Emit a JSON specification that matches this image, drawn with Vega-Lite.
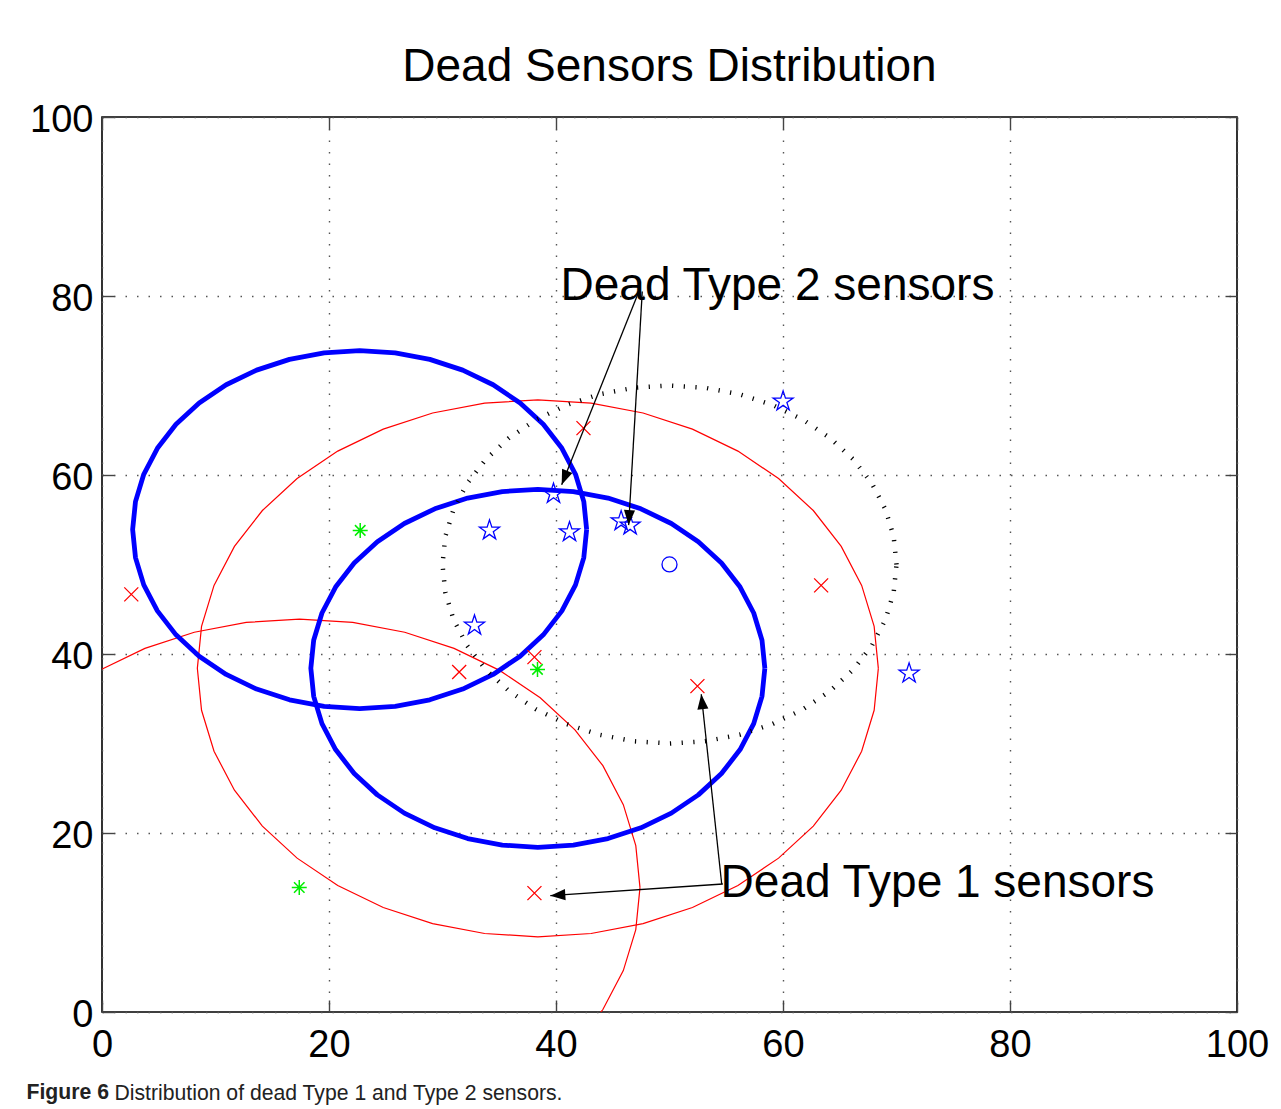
{
  "$schema": "https://vega.github.io/schema/vega-lite/v6.json",
  "width": 1135,
  "height": 895,
  "autosize": {"type": "none"},
  "padding": {"left": 102, "top": 117, "right": 44, "bottom": 97},
  "background": "white",
  "title": {"text": "Dead Sensors Distribution", "font": "Liberation Sans", "fontSize": 46, "fontWeight": "normal", "color": "black", "anchor": "middle", "frame": "group", "offset": 10},
  "config": {"view": {"stroke": "black", "strokeWidth": 1.6}},
  "datasets": {
    "circles": [
      {"c":"B1","k":0,"x":42.7,"y":53.9},{"c":"B1","k":1,"x":42.45,"y":57.03},{"c":"B1","k":2,"x":41.72,"y":60.08},{"c":"B1","k":3,"x":40.52,"y":62.98},{"c":"B1","k":4,"x":38.88,"y":65.66},{"c":"B1","k":5,"x":36.84,"y":68.04},{"c":"B1","k":6,"x":34.46,"y":70.08},{"c":"B1","k":7,"x":31.78,"y":71.72},{"c":"B1","k":8,"x":28.88,"y":72.92},{"c":"B1","k":9,"x":25.83,"y":73.65},{"c":"B1","k":10,"x":22.7,"y":73.9},{"c":"B1","k":11,"x":19.57,"y":73.65},{"c":"B1","k":12,"x":16.52,"y":72.92},{"c":"B1","k":13,"x":13.62,"y":71.72},{"c":"B1","k":14,"x":10.94,"y":70.08},{"c":"B1","k":15,"x":8.56,"y":68.04},{"c":"B1","k":16,"x":6.52,"y":65.66},{"c":"B1","k":17,"x":4.88,"y":62.98},{"c":"B1","k":18,"x":3.68,"y":60.08},{"c":"B1","k":19,"x":2.95,"y":57.03},{"c":"B1","k":20,"x":2.7,"y":53.9},{"c":"B1","k":21,"x":2.95,"y":50.77},{"c":"B1","k":22,"x":3.68,"y":47.72},{"c":"B1","k":23,"x":4.88,"y":44.82},{"c":"B1","k":24,"x":6.52,"y":42.14},{"c":"B1","k":25,"x":8.56,"y":39.76},{"c":"B1","k":26,"x":10.94,"y":37.72},{"c":"B1","k":27,"x":13.62,"y":36.08},{"c":"B1","k":28,"x":16.52,"y":34.88},{"c":"B1","k":29,"x":19.57,"y":34.15},{"c":"B1","k":30,"x":22.7,"y":33.9},{"c":"B1","k":31,"x":25.83,"y":34.15},{"c":"B1","k":32,"x":28.88,"y":34.88},{"c":"B1","k":33,"x":31.78,"y":36.08},{"c":"B1","k":34,"x":34.46,"y":37.72},{"c":"B1","k":35,"x":36.84,"y":39.76},{"c":"B1","k":36,"x":38.88,"y":42.14},{"c":"B1","k":37,"x":40.52,"y":44.82},{"c":"B1","k":38,"x":41.72,"y":47.72},{"c":"B1","k":39,"x":42.45,"y":50.77},{"c":"B1","k":40,"x":42.7,"y":53.9},
      {"c":"B2","k":0,"x":58.4,"y":38.4},{"c":"B2","k":1,"x":58.15,"y":41.53},{"c":"B2","k":2,"x":57.42,"y":44.58},{"c":"B2","k":3,"x":56.22,"y":47.48},{"c":"B2","k":4,"x":54.58,"y":50.16},{"c":"B2","k":5,"x":52.54,"y":52.54},{"c":"B2","k":6,"x":50.16,"y":54.58},{"c":"B2","k":7,"x":47.48,"y":56.22},{"c":"B2","k":8,"x":44.58,"y":57.42},{"c":"B2","k":9,"x":41.53,"y":58.15},{"c":"B2","k":10,"x":38.4,"y":58.4},{"c":"B2","k":11,"x":35.27,"y":58.15},{"c":"B2","k":12,"x":32.22,"y":57.42},{"c":"B2","k":13,"x":29.32,"y":56.22},{"c":"B2","k":14,"x":26.64,"y":54.58},{"c":"B2","k":15,"x":24.26,"y":52.54},{"c":"B2","k":16,"x":22.22,"y":50.16},{"c":"B2","k":17,"x":20.58,"y":47.48},{"c":"B2","k":18,"x":19.38,"y":44.58},{"c":"B2","k":19,"x":18.65,"y":41.53},{"c":"B2","k":20,"x":18.4,"y":38.4},{"c":"B2","k":21,"x":18.65,"y":35.27},{"c":"B2","k":22,"x":19.38,"y":32.22},{"c":"B2","k":23,"x":20.58,"y":29.32},{"c":"B2","k":24,"x":22.22,"y":26.64},{"c":"B2","k":25,"x":24.26,"y":24.26},{"c":"B2","k":26,"x":26.64,"y":22.22},{"c":"B2","k":27,"x":29.32,"y":20.58},{"c":"B2","k":28,"x":32.22,"y":19.38},{"c":"B2","k":29,"x":35.27,"y":18.65},{"c":"B2","k":30,"x":38.4,"y":18.4},{"c":"B2","k":31,"x":41.53,"y":18.65},{"c":"B2","k":32,"x":44.58,"y":19.38},{"c":"B2","k":33,"x":47.48,"y":20.58},{"c":"B2","k":34,"x":50.16,"y":22.22},{"c":"B2","k":35,"x":52.54,"y":24.26},{"c":"B2","k":36,"x":54.58,"y":26.64},{"c":"B2","k":37,"x":56.22,"y":29.32},{"c":"B2","k":38,"x":57.42,"y":32.22},{"c":"B2","k":39,"x":58.15,"y":35.27},{"c":"B2","k":40,"x":58.4,"y":38.4},
      {"c":"R1","k":0,"x":68.4,"y":38.4},{"c":"R1","k":1,"x":68.03,"y":43.09},{"c":"R1","k":2,"x":66.93,"y":47.67},{"c":"R1","k":3,"x":65.13,"y":52.02},{"c":"R1","k":4,"x":62.67,"y":56.03},{"c":"R1","k":5,"x":59.61,"y":59.61},{"c":"R1","k":6,"x":56.03,"y":62.67},{"c":"R1","k":7,"x":52.02,"y":65.13},{"c":"R1","k":8,"x":47.67,"y":66.93},{"c":"R1","k":9,"x":43.09,"y":68.03},{"c":"R1","k":10,"x":38.4,"y":68.4},{"c":"R1","k":11,"x":33.71,"y":68.03},{"c":"R1","k":12,"x":29.13,"y":66.93},{"c":"R1","k":13,"x":24.78,"y":65.13},{"c":"R1","k":14,"x":20.77,"y":62.67},{"c":"R1","k":15,"x":17.19,"y":59.61},{"c":"R1","k":16,"x":14.13,"y":56.03},{"c":"R1","k":17,"x":11.67,"y":52.02},{"c":"R1","k":18,"x":9.87,"y":47.67},{"c":"R1","k":19,"x":8.77,"y":43.09},{"c":"R1","k":20,"x":8.4,"y":38.4},{"c":"R1","k":21,"x":8.77,"y":33.71},{"c":"R1","k":22,"x":9.87,"y":29.13},{"c":"R1","k":23,"x":11.67,"y":24.78},{"c":"R1","k":24,"x":14.13,"y":20.77},{"c":"R1","k":25,"x":17.19,"y":17.19},{"c":"R1","k":26,"x":20.77,"y":14.13},{"c":"R1","k":27,"x":24.78,"y":11.67},{"c":"R1","k":28,"x":29.13,"y":9.87},{"c":"R1","k":29,"x":33.71,"y":8.77},{"c":"R1","k":30,"x":38.4,"y":8.4},{"c":"R1","k":31,"x":43.09,"y":8.77},{"c":"R1","k":32,"x":47.67,"y":9.87},{"c":"R1","k":33,"x":52.02,"y":11.67},{"c":"R1","k":34,"x":56.03,"y":14.13},{"c":"R1","k":35,"x":59.61,"y":17.19},{"c":"R1","k":36,"x":62.67,"y":20.77},{"c":"R1","k":37,"x":65.13,"y":24.78},{"c":"R1","k":38,"x":66.93,"y":29.13},{"c":"R1","k":39,"x":68.03,"y":33.71},{"c":"R1","k":40,"x":68.4,"y":38.4},
      {"c":"R2","k":0,"x":47.4,"y":13.9},{"c":"R2","k":1,"x":47.03,"y":18.59},{"c":"R2","k":2,"x":45.93,"y":23.17},{"c":"R2","k":3,"x":44.13,"y":27.52},{"c":"R2","k":4,"x":41.67,"y":31.53},{"c":"R2","k":5,"x":38.61,"y":35.11},{"c":"R2","k":6,"x":35.03,"y":38.17},{"c":"R2","k":7,"x":31.02,"y":40.63},{"c":"R2","k":8,"x":26.67,"y":42.43},{"c":"R2","k":9,"x":22.09,"y":43.53},{"c":"R2","k":10,"x":17.4,"y":43.9},{"c":"R2","k":11,"x":12.71,"y":43.53},{"c":"R2","k":12,"x":8.13,"y":42.43},{"c":"R2","k":13,"x":3.78,"y":40.63},{"c":"R2","k":14,"x":-0.23,"y":38.17},{"c":"R2","k":15,"x":-3.81,"y":35.11},{"c":"R2","k":16,"x":-6.87,"y":31.53},{"c":"R2","k":17,"x":-9.33,"y":27.52},{"c":"R2","k":18,"x":-11.13,"y":23.17},{"c":"R2","k":19,"x":-12.23,"y":18.59},{"c":"R2","k":20,"x":-12.6,"y":13.9},{"c":"R2","k":21,"x":-12.23,"y":9.21},{"c":"R2","k":22,"x":-11.13,"y":4.63},{"c":"R2","k":23,"x":-9.33,"y":0.28},{"c":"R2","k":24,"x":-6.87,"y":-3.73},{"c":"R2","k":25,"x":-3.81,"y":-7.31},{"c":"R2","k":26,"x":-0.23,"y":-10.37},{"c":"R2","k":27,"x":3.78,"y":-12.83},{"c":"R2","k":28,"x":8.13,"y":-14.63},{"c":"R2","k":29,"x":12.71,"y":-15.73},{"c":"R2","k":30,"x":17.4,"y":-16.1},{"c":"R2","k":31,"x":22.09,"y":-15.73},{"c":"R2","k":32,"x":26.67,"y":-14.63},{"c":"R2","k":33,"x":31.02,"y":-12.83},{"c":"R2","k":34,"x":35.03,"y":-10.37},{"c":"R2","k":35,"x":38.61,"y":-7.31},{"c":"R2","k":36,"x":41.67,"y":-3.73},{"c":"R2","k":37,"x":44.13,"y":0.28},{"c":"R2","k":38,"x":45.93,"y":4.63},{"c":"R2","k":39,"x":47.03,"y":9.21},{"c":"R2","k":40,"x":47.4,"y":13.9},
      {"c":"K","k":0,"x":70,"y":50},{"c":"K","k":1,"x":69.75,"y":53.13},{"c":"K","k":2,"x":69.02,"y":56.18},{"c":"K","k":3,"x":67.82,"y":59.08},{"c":"K","k":4,"x":66.18,"y":61.76},{"c":"K","k":5,"x":64.14,"y":64.14},{"c":"K","k":6,"x":61.76,"y":66.18},{"c":"K","k":7,"x":59.08,"y":67.82},{"c":"K","k":8,"x":56.18,"y":69.02},{"c":"K","k":9,"x":53.13,"y":69.75},{"c":"K","k":10,"x":50,"y":70},{"c":"K","k":11,"x":46.87,"y":69.75},{"c":"K","k":12,"x":43.82,"y":69.02},{"c":"K","k":13,"x":40.92,"y":67.82},{"c":"K","k":14,"x":38.24,"y":66.18},{"c":"K","k":15,"x":35.86,"y":64.14},{"c":"K","k":16,"x":33.82,"y":61.76},{"c":"K","k":17,"x":32.18,"y":59.08},{"c":"K","k":18,"x":30.98,"y":56.18},{"c":"K","k":19,"x":30.25,"y":53.13},{"c":"K","k":20,"x":30,"y":50},{"c":"K","k":21,"x":30.25,"y":46.87},{"c":"K","k":22,"x":30.98,"y":43.82},{"c":"K","k":23,"x":32.18,"y":40.92},{"c":"K","k":24,"x":33.82,"y":38.24},{"c":"K","k":25,"x":35.86,"y":35.86},{"c":"K","k":26,"x":38.24,"y":33.82},{"c":"K","k":27,"x":40.92,"y":32.18},{"c":"K","k":28,"x":43.82,"y":30.98},{"c":"K","k":29,"x":46.87,"y":30.25},{"c":"K","k":30,"x":50,"y":30},{"c":"K","k":31,"x":53.13,"y":30.25},{"c":"K","k":32,"x":56.18,"y":30.98},{"c":"K","k":33,"x":59.08,"y":32.18},{"c":"K","k":34,"x":61.76,"y":33.82},{"c":"K","k":35,"x":64.14,"y":35.86},{"c":"K","k":36,"x":66.18,"y":38.24},{"c":"K","k":37,"x":67.82,"y":40.92},{"c":"K","k":38,"x":69.02,"y":43.82},{"c":"K","k":39,"x":69.75,"y":46.87},{"c":"K","k":40,"x":70,"y":50}
    ],
    "sensors": [
      {"kind":"type2","x":60.01,"y":68.23},
      {"kind":"type2","x":39.78,"y":57.91},
      {"kind":"type2","x":34.14,"y":53.81},
      {"kind":"type2","x":41.19,"y":53.62},
      {"kind":"type2","x":45.74,"y":54.85},
      {"kind":"type2","x":46.53,"y":54.37},
      {"kind":"type2","x":32.82,"y":43.19},
      {"kind":"type2","x":71.11,"y":37.83},
      {"kind":"type1","x":42.42,"y":65.24},
      {"kind":"type1","x":2.58,"y":46.66},
      {"kind":"type1","x":63.36,"y":47.67},
      {"kind":"type1","x":31.47,"y":37.98},
      {"kind":"type1","x":38.1,"y":39.65},
      {"kind":"type1","x":52.46,"y":36.41},
      {"kind":"type1","x":38.1,"y":13.28},
      {"kind":"head","x":22.75,"y":53.81},
      {"kind":"head","x":38.37,"y":38.28},
      {"kind":"head","x":17.38,"y":13.91},
      {"kind":"sink","x":50.0,"y":50.01}
    ],
    "arrows": [
      {"id":"A","x":47.3,"y":80.5,"x2":40.5,"y2":58.9},
      {"id":"B","x":47.6,"y":80.5,"x2":46.4,"y2":54.4},
      {"id":"C","x":54.6,"y":14.3,"x2":52.8,"y2":35.5},
      {"id":"D","x":54.7,"y":14.3,"x2":39.5,"y2":13.0}
    ],
    "labels": [
      {"label":"Dead Type 2 sensors","x":40.4,"y":79.5},
      {"label":"Dead Type 1 sensors","x":54.5,"y":12.8}
    ]
  },
  "encoding": {
    "x": {"field": "x", "type": "quantitative", "scale": {"domain": [0, 100], "nice": false, "zero": false}, "axis": null},
    "y": {"field": "y", "type": "quantitative", "scale": {"domain": [0, 100], "nice": false, "zero": false}, "axis": null}
  },
  "layer": [
    {
      "data": {"name": "circles"},
      "transform": [{"filter": {"field": "c", "oneOf": ["R1", "R2"]}}],
      "mark": {"type": "line", "color": "#ff0000", "strokeWidth": 1.2, "clip": true},
      "encoding": {
        "x": {"field": "x", "type": "quantitative", "scale": {"domain": [0, 100], "nice": false, "zero": false},
          "axis": {"orient": "bottom", "values": [0, 20, 40, 60, 80, 100], "domain": false, "grid": true, "gridColor": "#555555", "gridDash": [1.5, 10], "gridWidth": 1.4,
            "ticks": true, "tickSize": -12, "tickColor": "#444444", "tickWidth": 1.4,
            "labelFont": "Liberation Sans", "labelFontSize": 38, "labelColor": "black", "labelPadding": 26, "labelFlush": false, "labelOverlap": false,
            "title": "Distribution of dead Type 1 and Type 2 sensors.", "titleX": 12, "titleY": 87, "titleAlign": "left", "titleBaseline": "alphabetic", "titleAngle": 0,
            "titleFont": "Liberation Sans", "titleFontSize": 21.2, "titleFontWeight": "normal", "titleColor": "#222222"}},
        "y": {"field": "y", "type": "quantitative", "scale": {"domain": [0, 100], "nice": false, "zero": false},
          "axis": {"orient": "left", "values": [0, 20, 40, 60, 80, 100], "domain": false, "grid": true, "gridColor": "#555555", "gridDash": [1.5, 10], "gridWidth": 1.4,
            "ticks": true, "tickSize": -12, "tickColor": "#444444", "tickWidth": 1.4,
            "labelFont": "Liberation Sans", "labelFontSize": 38, "labelColor": "black", "labelPadding": 21, "labelOffset": 3, "labelFlush": false, "labelOverlap": false,
            "title": "Figure 6", "titleX": -76, "titleY": 981, "titleAlign": "left", "titleBaseline": "alphabetic", "titleAngle": 0,
            "titleFont": "Liberation Sans", "titleFontSize": 21.2, "titleFontWeight": "bold", "titleColor": "#222222"}},
        "detail": {"field": "c"},
        "order": {"field": "k", "type": "quantitative"}
      }
    },
    {
      "data": {"name": "circles"},
      "transform": [{"filter": {"field": "c", "oneOf": ["B1", "B2"]}}],
      "mark": {"type": "line", "color": "#0000ff", "strokeWidth": 4.8, "strokeJoin": "round", "clip": true},
      "encoding": {
        "x": {"field": "x", "type": "quantitative", "scale": {"domain": [0, 100], "nice": false, "zero": false},
          "axis": {"orient": "top", "values": [0, 20, 40, 60, 80, 100], "domain": false, "grid": false, "labels": false, "ticks": true, "tickSize": -12, "tickColor": "#444444", "tickWidth": 1.4, "title": null}},
        "y": {"field": "y", "type": "quantitative", "scale": {"domain": [0, 100], "nice": false, "zero": false},
          "axis": {"orient": "right", "values": [0, 20, 40, 60, 80, 100], "domain": false, "grid": false, "labels": false, "ticks": true, "tickSize": -12, "tickColor": "#444444", "tickWidth": 1.4, "title": null}},
        "detail": {"field": "c"},
        "order": {"field": "k", "type": "quantitative"}
      }
    },
    {
      "data": {"name": "circles"},
      "transform": [{"filter": {"field": "c", "equal": "K"}}],
      "mark": {"type": "line", "color": "black", "strokeWidth": 4.5, "strokeDash": [1.2, 10.5], "strokeCap": "butt", "clip": true},
      "encoding": {
        "detail": {"field": "c"},
        "order": {"field": "k", "type": "quantitative"}
      }
    },
    {
      "data": {"name": "sensors"},
      "transform": [{"filter": {"field": "kind", "equal": "type2"}}],
      "mark": {"type": "point", "shape": "M0,-1L0.2245,-0.309L0.951,-0.309L0.363,0.118L0.588,0.809L0,0.382L-0.588,0.809L-0.363,0.118L-0.951,-0.309L-0.2245,-0.309Z", "filled": false, "color": "#0000ff", "size": 441, "strokeWidth": 1.3, "opacity": 1}
    },
    {
      "data": {"name": "sensors"},
      "transform": [{"filter": {"field": "kind", "equal": "type1"}}],
      "mark": {"type": "point", "shape": "M-1,-1L1,1M-1,1L1,-1", "filled": false, "color": "#ff0000", "size": 196, "strokeWidth": 1.3, "opacity": 1}
    },
    {
      "data": {"name": "sensors"},
      "transform": [{"filter": {"field": "kind", "equal": "head"}}],
      "mark": {"type": "point", "shape": "M-1,0L1,0M0,-1L0,1M-0.7,-0.7L0.7,0.7M-0.7,0.7L0.7,-0.7", "filled": false, "color": "#00ee00", "size": 225, "strokeWidth": 1.5, "opacity": 1}
    },
    {
      "data": {"name": "sensors"},
      "transform": [{"filter": {"field": "kind", "equal": "sink"}}],
      "mark": {"type": "point", "shape": "circle", "filled": false, "color": "#0000ff", "size": 225, "strokeWidth": 1.3, "opacity": 1}
    },
    {
      "data": {"name": "arrows"},
      "mark": {"type": "rule", "color": "black", "strokeWidth": 1.3},
      "encoding": {"x2": {"field": "x2"}, "y2": {"field": "y2"}}
    },
    {
      "data": {"name": "arrows"},
      "transform": [{"filter": {"field": "id", "equal": "A"}}],
      "mark": {"type": "point", "shape": "M0,0L-0.37,1L0.37,1Z", "filled": true, "color": "black", "size": 900, "angle": -158.2, "opacity": 1, "strokeWidth": 0},
      "encoding": {"x": {"field": "x2", "type": "quantitative", "scale": {"domain": [0, 100], "nice": false, "zero": false}, "axis": null}, "y": {"field": "y2", "type": "quantitative", "scale": {"domain": [0, 100], "nice": false, "zero": false}, "axis": null}}
    },
    {
      "data": {"name": "arrows"},
      "transform": [{"filter": {"field": "id", "equal": "B"}}],
      "mark": {"type": "point", "shape": "M0,0L-0.37,1L0.37,1Z", "filled": true, "color": "black", "size": 900, "angle": -176.7, "opacity": 1, "strokeWidth": 0},
      "encoding": {"x": {"field": "x2", "type": "quantitative", "scale": {"domain": [0, 100], "nice": false, "zero": false}, "axis": null}, "y": {"field": "y2", "type": "quantitative", "scale": {"domain": [0, 100], "nice": false, "zero": false}, "axis": null}}
    },
    {
      "data": {"name": "arrows"},
      "transform": [{"filter": {"field": "id", "equal": "C"}}],
      "mark": {"type": "point", "shape": "M0,0L-0.37,1L0.37,1Z", "filled": true, "color": "black", "size": 900, "angle": -6.15, "opacity": 1, "strokeWidth": 0},
      "encoding": {"x": {"field": "x2", "type": "quantitative", "scale": {"domain": [0, 100], "nice": false, "zero": false}, "axis": null}, "y": {"field": "y2", "type": "quantitative", "scale": {"domain": [0, 100], "nice": false, "zero": false}, "axis": null}}
    },
    {
      "data": {"name": "arrows"},
      "transform": [{"filter": {"field": "id", "equal": "D"}}],
      "mark": {"type": "point", "shape": "M0,0L-0.37,1L0.37,1Z", "filled": true, "color": "black", "size": 900, "angle": -93.85, "opacity": 1, "strokeWidth": 0},
      "encoding": {"x": {"field": "x2", "type": "quantitative", "scale": {"domain": [0, 100], "nice": false, "zero": false}, "axis": null}, "y": {"field": "y2", "type": "quantitative", "scale": {"domain": [0, 100], "nice": false, "zero": false}, "axis": null}}
    },
    {
      "data": {"name": "labels"},
      "mark": {"type": "text", "align": "left", "baseline": "alphabetic", "font": "Liberation Sans", "fontSize": 46, "color": "black"},
      "encoding": {"text": {"field": "label", "type": "nominal"}}
    }
  ],
  "resolve": {"axis": {"x": "independent", "y": "independent"}}
}
